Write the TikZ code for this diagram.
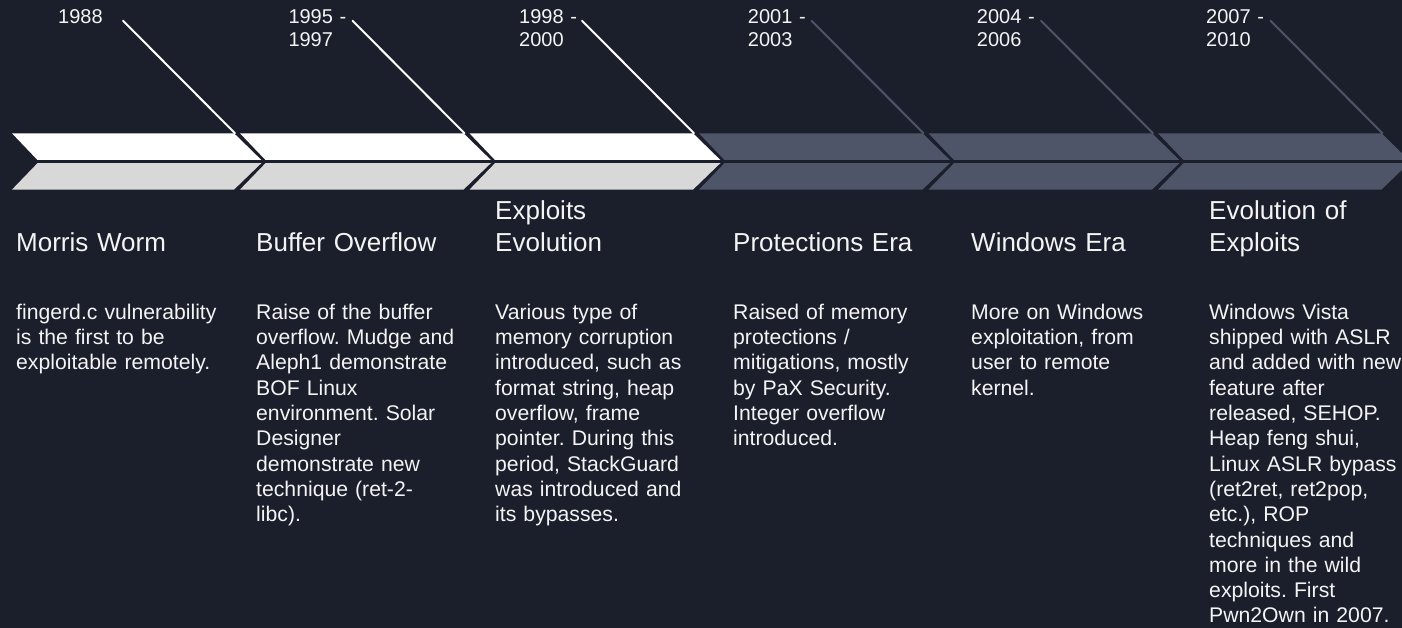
\documentclass[tikz,border=0pt]{standalone}
\usepackage{fontspec}
\setmainfont{Liberation Sans}
\frenchspacing
\definecolor{bg}{HTML}{1B1F2B}
\definecolor{slate}{HTML}{4F5568}
\definecolor{lightg}{HTML}{D8D8D8}
\definecolor{txt}{HTML}{F4F4F4}
\tikzset{
  yearlbl/.style={text=txt, font=\fontsize{20}{22.7}\selectfont\frenchspacing, inner sep=0pt, anchor=base west, text width=90pt, align=left},
  ttl/.style={text=txt, font=\fontsize{26}{32}\selectfont\frenchspacing, inner sep=0pt, anchor=base west, text width=220pt, align=left},
  bodytxt/.style={text=txt, font=\fontsize{21.2}{25.3}\selectfont\frenchspacing, inner sep=0pt, anchor=base west, text width=240pt, align=left},
  leadw/.style={draw=white, line width=2pt, line cap=round},
  leads/.style={draw=slate, line width=2pt, line cap=round},
}
\begin{document}
\begin{tikzpicture}[x=1pt,y=-1pt]
\fill[bg] (0,0) rectangle (1402,628);
\useasboundingbox (0,0) rectangle (1402,628);

% leader lines (behind the band)
\foreach \i/\st in {0/leadw,1/leadw,2/leadw,3/leads,4/leads,5/leads}{
  \pgfmathsetmacro\sx{123+229.5*\i}
  \pgfmathsetmacro\ex{263+229.5*\i-28}
  \coordinate (s\i) at (\sx,20.7);
  \coordinate (e\i) at (\ex,133.3);
  \draw[\st] (s\i) -- (e\i);
}

% chevron band
\foreach \i/\up/\dn in {0/white/lightg,1/white/lightg,2/white/lightg,3/slate/slate,4/slate/slate,5/slate/slate}{
  \pgfmathsetmacro\T{263+229.5*\i}
  \pgfmathsetmacro\L{\i==0 ? 12 : \T-229.5-23}
  \fill[\up] (\L,133.3) -- ({\T-29},133.3) -- (\T,161.6) -- ({\L+27},161.6) -- cycle;
  \fill[\dn] ({\L+27},161.6) -- (\T,161.6) -- ({\T-29},189.6) -- (\L,189.6) -- cycle;
}
\draw[bg, line width=3.3pt] (0,161.6) -- (1402,161.6);

% year labels
\node[yearlbl] (yr1) at (58,24) {1988};
\node[yearlbl] (yr2) at (288.3,24) {1995 -\\1997};
\node[yearlbl] (yr3) at (519,24) {1998 -\\2000};
\node[yearlbl] (yr4) at (747.7,24) {2001 -\\2003};
\node[yearlbl] (yr5) at (976.7,24) {2004 -\\2006};
\node[yearlbl] (yr6) at (1206,24) {2007 -\\2010};

% titles
\node[ttl] (t1) at (16,252) {Morris Worm};
\node[ttl] (t2) at (256,252) {Buffer Overflow};
\node[ttl] (t3) at (495,220) {Exploits\\Evolution};
\node[ttl] (t4) at (733,252) {Protections Era};
\node[ttl] (t5) at (971,252) {Windows Era};
\node[ttl] (t6) at (1209,220) {Evolution of\\Exploits};

% descriptions
\node[bodytxt] (d1) at (16,319.3) {fingerd.c vulnerability\\is the first to be\\exploitable remotely.};
\node[bodytxt] (d2) at (256,319.3) {Raise of the buffer\\overflow. Mudge and\\Aleph1 demonstrate\\BOF Linux\\environment. Solar\\Designer\\demonstrate new\\technique (ret-2-\\libc).};
\node[bodytxt] (d3) at (495,319.3) {Various type of\\memory corruption\\introduced, such as\\format string, heap\\overflow, frame\\pointer. During this\\period, StackGuard\\was introduced and\\its bypasses.};
\node[bodytxt] (d4) at (733,319.3) {Raised of memory\\protections /\\mitigations, mostly\\by PaX Security.\\Integer overflow\\introduced.};
\node[bodytxt] (d5) at (971,319.3) {More on Windows\\exploitation, from\\user to remote\\kernel.};
\node[bodytxt] (d6) at (1209,319.3) {Windows Vista\\shipped with ASLR\\and added with new\\feature after\\released, SEHOP.\\Heap feng shui,\\Linux ASLR bypass\\(ret2ret, ret2pop,\\etc.), ROP\\techniques and\\more in the wild\\exploits. First\\Pwn2Own in 2007.};
\end{tikzpicture}
\end{document}
